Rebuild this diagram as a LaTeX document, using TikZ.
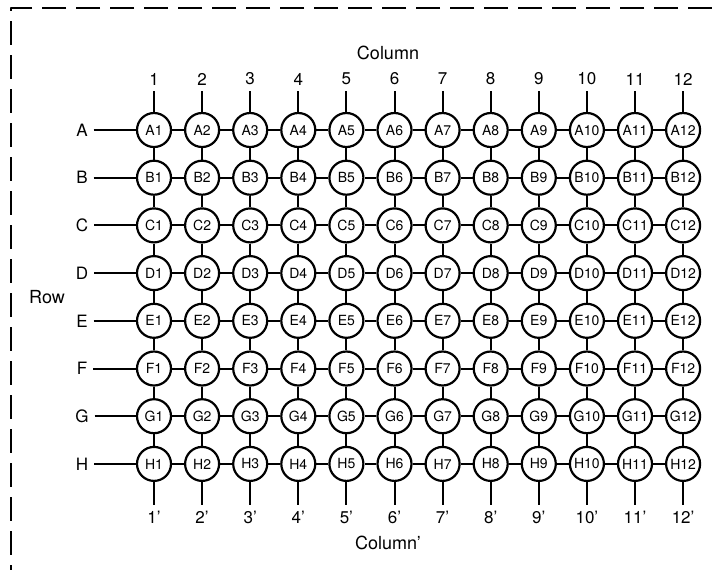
\documentclass[tikz,border=0pt]{standalone}
\usepackage{fontspec}
\setmainfont{TeX Gyre Heros}
\begin{document}
\begin{tikzpicture}[x=.5pt,y=-.5pt,line join=round,
  well/.style={circle,draw,line width=1.1pt,minimum size=17pt,inner sep=0pt,font=\fontsize{7}{8}\selectfont},
  lbl/.style={inner sep=1pt,outer sep=2pt,font=\fontsize{8.5}{9}\selectfont},
  ttl/.style={font=\fontsize{9}{10}\selectfont},
  wire/.style={line width=1pt}]
\useasboundingbox (0,0) rectangle (712,570);
\def\dx{48.1}
\def\dy{47.7}
% frame, cut off right and bottom
\draw[dash pattern=on 12pt off 5pt,line width=.9pt] (712,8)--(11,8)--(11,570);
% wells
\foreach \r [count=\j from 0] in {A,...,H}
  \foreach \c in {1,...,12}
    \node[well] (\r\c) at ({154+(\c-1)*\dx},{130+\j*\dy}) {\r\c};
% column and row labels
\foreach \c in {1,...,12}{
  \node[lbl] (top\c) at ({154+(\c-1)*\dx},79) {\c};
  \node[lbl] (bot\c) at ({154+(\c-1)*\dx},517) {\c'};
}
\foreach \r [count=\j from 0] in {A,...,H}
  \node[lbl] (row\r) at (82,{130+\j*\dy}) {\r};
\node[ttl] (coltop) at (388,53) {Column};
\node[ttl] (colbot) at (388,543) {Column'};
\node[ttl] (rowttl) at (47,297) {Row};
% wires
\foreach \c in {1,...,12}{
  \draw[wire] (top\c)--(A\c);
  \draw[wire] (H\c)--(bot\c);
}
\foreach \r in {A,...,H}{
  \draw[wire] (row\r)--(\r1);
  \foreach \c [evaluate=\c as \n using int(\c+1)] in {1,...,11}
    \draw[wire] (\r\c)--(\r\n);
}
\foreach \r/\s in {A/B,B/C,C/D,D/E,E/F,F/G,G/H}
  \foreach \c in {1,...,12}
    \draw[wire] (\r\c)--(\s\c);
\end{tikzpicture}
\end{document}
